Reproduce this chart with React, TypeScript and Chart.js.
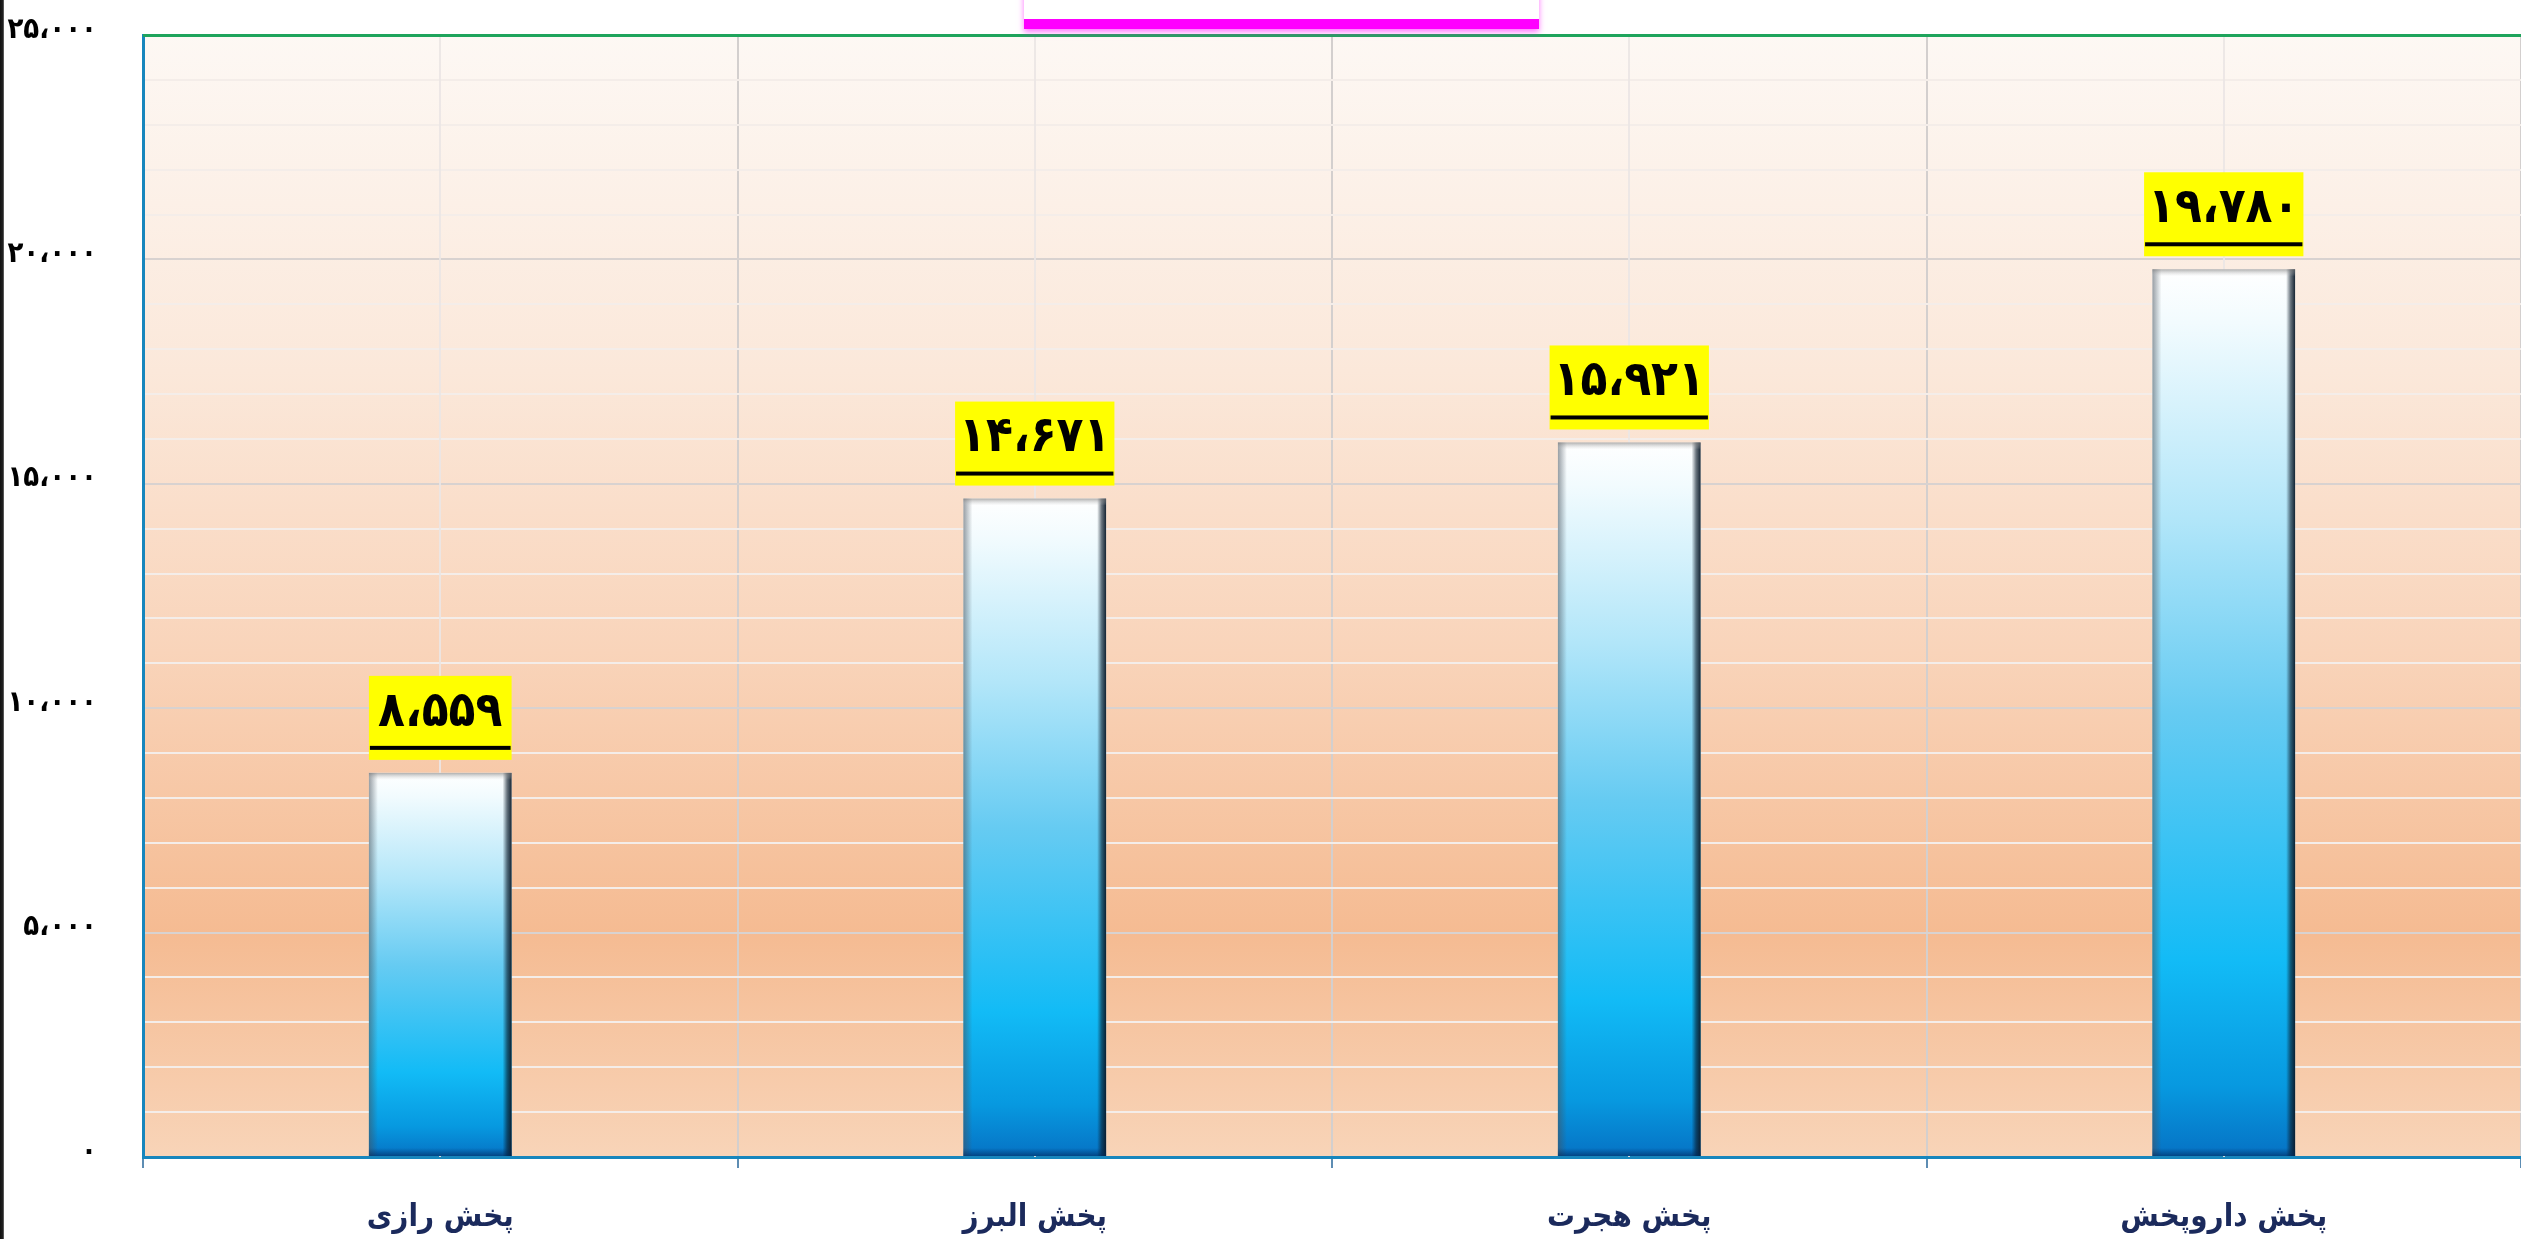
import React, { useEffect, useRef } from "react";
import { Chart, registerables } from "chart.js";

Chart.register(...registerables);

const categories = ["پخش رازی", "پخش البرز", "پخش هجرت", "پخش داروپخش"];
const values = [8559, 14671, 15921, 19780];
const yTickValues = [0, 5000, 10000, 15000, 20000, 25000];
const yTickLabels = ["۰", "۵،۰۰۰", "۱۰،۰۰۰", "۱۵،۰۰۰", "۲۰،۰۰۰", "۲۵،۰۰۰"];
const dataLabels = ["۸،۵۵۹", "۱۴،۶۷۱", "۱۵،۹۲۱", "۱۹،۷۸۰"];

const W = 2521;
const H = 1239;
const FONT = "'DejaVu Sans Condensed', 'DejaVu Sans', sans-serif";

const decorPlugin = {
  id: "decor",
  beforeDraw(chart: any) {
    const { ctx, chartArea: a } = chart;
    if (!a) return;
    const g = ctx.createLinearGradient(0, a.top, 0, a.bottom);
    g.addColorStop(0, "#fdf8f4");
    g.addColorStop(0.3, "#fbe8da");
    g.addColorStop(0.55, "#f9d4ba");
    g.addColorStop(0.8, "#f5bb92");
    g.addColorStop(1, "#f8d4b8");
    ctx.save();
    ctx.fillStyle = g;
    ctx.fillRect(a.left, a.top, a.right - a.left, a.bottom - a.top);
    ctx.restore();
  },
  beforeDatasetsDraw(chart: any) {
    const { ctx, chartArea: a, scales } = chart;
    ctx.save();
    ctx.strokeStyle = "rgba(235,230,228,0.9)";
    ctx.lineWidth = 2;
    categories.forEach((_, i) => {
      const x = Math.round(scales.x.getPixelForValue(i));
      ctx.beginPath();
      ctx.moveTo(x, a.top);
      ctx.lineTo(x, a.bottom);
      ctx.stroke();
    });
    ctx.restore();
  },
  afterDatasetsDraw(chart: any) {
    const { ctx, chartArea: a } = chart;
    const meta = chart.getDatasetMeta(0);
    ctx.save();
    meta.data.forEach((el: any, i: number) => {
      const p = el.getProps(["x", "y", "base", "width"], true);
      const left = p.x - p.width / 2;
      const right = p.x + p.width / 2;
      const top = p.y;
      const bottom = p.base;
      const h = bottom - top;
      let g = ctx.createLinearGradient(left, 0, left + 9, 0);
      g.addColorStop(0, "rgba(70,80,90,0.55)");
      g.addColorStop(1, "rgba(70,80,90,0)");
      ctx.fillStyle = g;
      ctx.fillRect(left, top, 9, h);
      g = ctx.createLinearGradient(right - 9, 0, right, 0);
      g.addColorStop(0, "rgba(10,25,40,0)");
      g.addColorStop(0.5, "rgba(10,25,40,0.6)");
      g.addColorStop(1, "rgba(10,25,40,0.95)");
      ctx.fillStyle = g;
      ctx.fillRect(right - 9, top, 9, h);
      g = ctx.createLinearGradient(0, top, 0, top + 7);
      g.addColorStop(0, "rgba(120,120,120,0.6)");
      g.addColorStop(1, "rgba(200,200,200,0)");
      ctx.fillStyle = g;
      ctx.fillRect(left, top, p.width, 7);
      g = ctx.createLinearGradient(0, bottom - 8, 0, bottom);
      g.addColorStop(0, "rgba(0,40,90,0)");
      g.addColorStop(1, "rgba(0,40,90,0.6)");
      ctx.fillStyle = g;
      ctx.fillRect(left, bottom - 8, p.width, 8);

      const text = dataLabels[i];
      ctx.font = `bold 49px ${FONT}`;
      const tw = ctx.measureText(text).width;
      const bw = Math.max(tw + 8, p.width);
      const bh = 84;
      const bBottom = top - 13;
      const bTop = bBottom - bh;
      const bLeft = p.x - bw / 2;
      ctx.fillStyle = "#ffff00";
      ctx.fillRect(bLeft, bTop, bw, bh);
      ctx.fillStyle = "#000000";
      ctx.textAlign = "center";
      ctx.textBaseline = "middle";
      ctx.fillText(text, p.x, bTop + 37);
      ctx.fillRect(bLeft + 1, bBottom - 14, bw - 2, 4);
    });
    ctx.fillStyle = "#1fa45c";
    ctx.fillRect(a.left, a.top - 1, a.right - a.left, 3);
    ctx.restore();
  },
};

export default function App() {
  const ref = useRef<HTMLCanvasElement>(null);
  useEffect(() => {
    document.body.style.margin = "0";
    const chart = new Chart(ref.current as HTMLCanvasElement, {
      type: "bar",
      data: {
        labels: categories,
        datasets: [
          {
            data: values,
            categoryPercentage: 1,
            barPercentage: 0.24,
            borderWidth: 0,
            backgroundColor: (c: any) => {
              const chart = c.chart;
              const a = chart.chartArea;
              if (!a || c.dataIndex === undefined) return "#3fc3f2";
              const y = chart.scales.y;
              const top = y.getPixelForValue(values[c.dataIndex]);
              const base = y.getPixelForValue(0);
              const g = chart.ctx.createLinearGradient(0, top, 0, base);
              g.addColorStop(0, "#ffffff");
              g.addColorStop(0.06, "#f2fbfe");
              g.addColorStop(0.28, "#b2e6f9");
              g.addColorStop(0.5, "#66cbf2");
              g.addColorStop(0.78, "#12bbf6");
              g.addColorStop(0.92, "#0799e0");
              g.addColorStop(1, "#0672c4");
              return g;
            },
          },
        ],
      },
      options: {
        animation: false,
        responsive: false,
        layout: { padding: { top: 35, right: 0, left: 0, bottom: 0 } },
        plugins: {
          legend: { display: false },
          title: { display: false },
          tooltip: { enabled: false },
        },
        scales: {
          x: {
            offset: true,
            grid: {
              offset: true,
              color: "#d3cfce",
              lineWidth: 2,
              drawTicks: true,
              tickLength: 11,
              tickColor: "#5d8db3",
            },
            border: { color: "#1786bd", width: 3 },
            ticks: {
              color: "#1b2a5c",
              font: { family: FONT, size: 31, weight: "bold" },
              padding: 31,
            },
            afterFit: (s: any) => {
              s.height = 82;
              s.paddingLeft = 0;
              s.paddingRight = 0;
            },
          },
          y: {
            min: 0,
            max: 25000,
            afterBuildTicks: (s: any) => {
              const t = [];
              for (let v = 0; v <= 25000; v += 1000) t.push({ value: v });
              s.ticks = t;
            },
            grid: {
              drawTicks: false,
              lineWidth: 2,
              color: (c: any) =>
                c.tick && c.tick.value % 5000 === 0 ? "#d8d2d0" : "#f4ede9",
            },
            border: { color: "#1786bd", width: 3 },
            ticks: {
              autoSkip: false,
              padding: 46,
              labelOffset: -5,
              color: "#000000",
              font: { family: FONT, size: 29, weight: "bold" },
              callback: (v: any) => {
                const idx = yTickValues.indexOf(Number(v));
                return idx >= 0 ? yTickLabels[idx] : "";
              },
            },
            afterFit: (s: any) => {
              s.width = 143;
              s.paddingTop = 0;
              s.paddingBottom = 0;
            },
          },
        },
      } as any,
      plugins: [decorPlugin],
    });
    return () => chart.destroy();
  }, []);

  return (
    <div
      style={{
        position: "fixed",
        left: 0,
        top: 0,
        width: W,
        height: H,
        overflow: "hidden",
        background: "#ffffff",
      }}
    >
      <canvas ref={ref} width={W} height={H} style={{ display: "block" }} />
      <div
        style={{
          position: "absolute",
          left: 0,
          top: 0,
          width: 4,
          height: H,
          background: "linear-gradient(to right, #111 0, #222 3px, #888 4px)",
        }}
      />
      <div
        style={{
          position: "absolute",
          left: 1024,
          top: -40,
          width: 515,
          height: 59,
          background: "#ffffff",
          borderBottom: "10px solid #ff00ff",
          boxShadow: "0 3px 6px rgba(255,0,255,0.55)",
        }}
      />
    </div>
  );
}
